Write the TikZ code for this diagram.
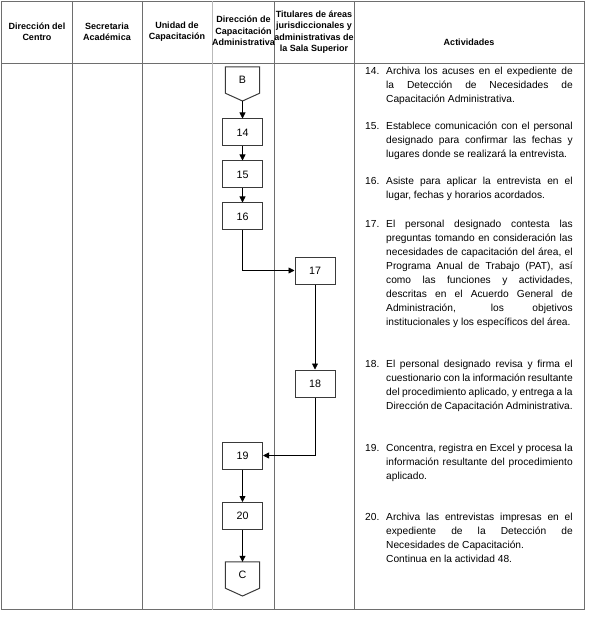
\documentclass[tikz,border=0pt]{standalone}
\usepackage{fontspec}
\setmainfont{Liberation Sans}
\usetikzlibrary{arrows.meta}
\definecolor{rule}{HTML}{6E6E6E}
\definecolor{boxline}{HTML}{3A3A3A}
\newcommand{\nohy}{\hyphenpenalty=10000 \exhyphenpenalty=10000 \relax}
\newcommand{\lb}{\linebreak}
\hyphenpenalty=10000
\exhyphenpenalty=10000
\lefthyphenmin=60
\righthyphenmin=60
\tikzset{
  hdr/.style={font=\bfseries\fontsize{9}{11.3}\selectfont, align=center, inner sep=0pt},
  stepbox/.style={draw=boxline, line width=1pt, minimum width=40pt, minimum height=27pt, inner sep=0pt, font=\fontsize{10.7}{13}\selectfont},
  conn/.style={draw=none, minimum width=34pt, minimum height=26pt, inner sep=0pt, font=\fontsize{10.7}{13}\selectfont},
  arr/.style={draw=black, line width=0.8pt, -{Triangle[length=6pt,width=6pt]}},
  actnum/.style={anchor=north west, inner sep=0pt, font=\fontsize{10.2}{14}\selectfont},
  act/.style={anchor=north west, text width=186.5pt, align=justify, inner sep=0pt, font=\fontsize{10.2}{14}\selectfont},
  gridline/.style={draw=rule, line width=0.9pt}
}
\begin{document}
\begin{tikzpicture}[x=1pt,y=-1pt]
\useasboundingbox (0,0) rectangle (590,617);
% table
\draw[gridline] (1.5,1) rectangle (584.5,609.5);
\draw[gridline] (1.5,63) -- (584.5,63);
\draw[gridline] (72,1) -- (72,609.5);
\draw[gridline] (142.5,1) -- (142.5,609.5);
\draw[draw=gray!55, line width=1.6pt] (212.5,1) -- (212.5,609.5);
\draw[gridline] (274,1) -- (274,609.5);
\draw[gridline] (354,1) -- (354,609.5);
% headers
\node[hdr] (h1) at (37,32) {Dirección del\\Centro};
\node[hdr] (h2) at (107,32) {Secretaria\\Académica};
\node[hdr] (h3) at (177,32) {Unidad de\\Capacitación};
\node[hdr] (h4) at (243.5,31) {Dirección de\\Capacitación\\Administrativa};
\node[hdr] (h5) at (314,32) {Titulares de áreas\\jurisdiccionales y\\administrativas de\\la Sala Superior};
\node[hdr] (h6) at (469,42) {Actividades};
% flow
\node[conn] (B) at (242.5,80) {B};
\draw[draw=boxline, line width=1pt] (B.north west) -- (B.north east) -- (B.south east) -- (242.5,101) -- (B.south west) -- cycle;
\coordinate (Btip) at (242.5,101);
\node[stepbox] (s14) at (242.5,132.5) {14};
\node[stepbox] (s15) at (242.5,174.5) {15};
\node[stepbox] (s16) at (242.5,216.5) {16};
\node[stepbox] (s17) at (315,270.5) {17};
\node[stepbox] (s18) at (315,383.5) {18};
\node[stepbox] (s19) at (242.5,455.5) {19};
\node[stepbox] (s20) at (242.5,516) {20};
\node[conn] (C) at (242.5,575) {C};
\draw[draw=boxline, line width=1pt] (C.north west) -- (C.north east) -- (C.south east) -- (242.5,596) -- (C.south west) -- cycle;
\draw[arr] (Btip) -- (s14.north);
\draw[arr] (s14) -- (s15);
\draw[arr] (s15) -- (s16);
\draw[arr] (s16.south) |- (s17.west);
\draw[arr] (s17) -- (s18);
\draw[arr] (s18.south) |- (s19.east);
\draw[arr] (s19) -- (s20);
\draw[arr] (s20.south) -- (C.north);
% activities
\node[actnum] (n14) at (365,67) {14.};
\node[act] (a14) at (386,67) {\nohy Archiva los acuses en el expediente de\lb{} la Detección de Necesidades de\lb{} Capacitación Administrativa.};
\node[actnum] (n15) at (365,122) {15.};
\node[act] (a15) at (386,122) {\nohy Establece comunicación con el personal\lb{} designado para confirmar las fechas y\lb{} lugares donde se realizará la entrevista.};
\node[actnum] (n16) at (365,177) {16.};
\node[act] (a16) at (386,177) {\nohy Asiste para aplicar la entrevista en el\lb{} lugar, fechas y horarios acordados.};
\node[actnum] (n17) at (365,220) {17.};
\node[act] (a17) at (386,220) {\nohy El personal designado contesta las\lb{} preguntas tomando en consideración las\lb{} necesidades de capacitación del área, el\lb{} Programa Anual de Trabajo (PAT), así\lb{} como las funciones y actividades,\lb{} descritas en el Acuerdo General de\lb{} Administración, los objetivos\lb{} \mbox{institucionales y los específicos del área.}};
\node[actnum] (n18) at (365,360) {18.};
\node[act] (a18) at (386,360) {\nohy El personal designado revisa y firma el\lb{} cuestionario con la información resultante\lb{} del procedimiento aplicado, y entrega a la\lb{} Dirección de Capacitación Administrativa.};
\node[actnum] (n19) at (365,444) {19.};
\node[act] (a19) at (386,444) {\nohy Concentra, registra en Excel y procesa la\lb{} información resultante del procedimiento\lb{} aplicado.};
\node[actnum] (n20) at (365,513) {20.};
\node[act] (a20) at (386,513) {\nohy Archiva las entrevistas impresas en el\lb{} expediente de la Detección de\lb{} Necesidades de Capacitación.\newline Continua en la actividad 48.};
\end{tikzpicture}
\end{document}
